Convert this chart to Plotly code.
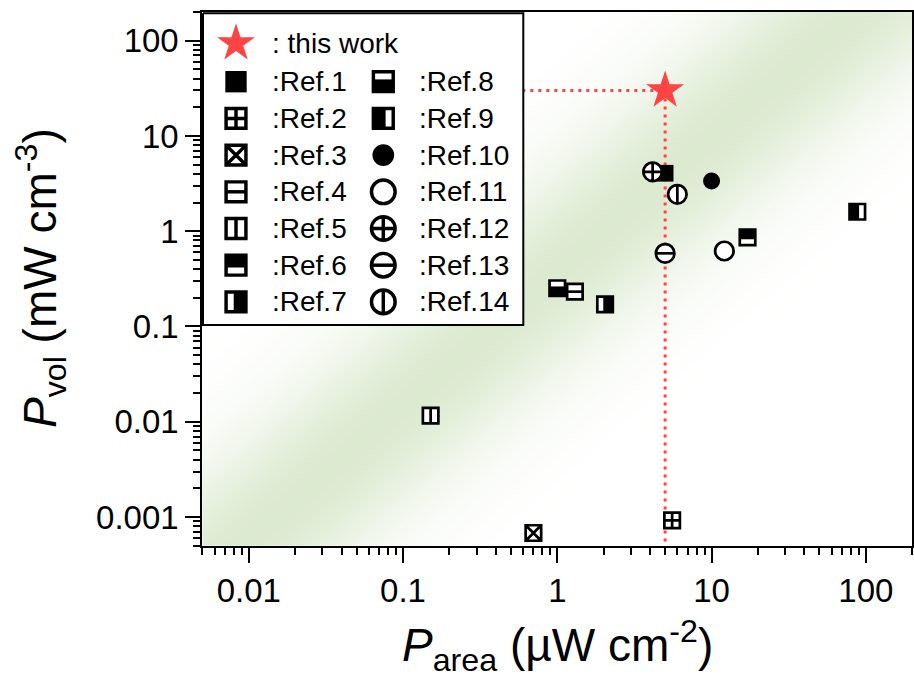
import numpy as np
import plotly.graph_objects as go

# ---------------- data ----------------
ref_names = ["Ref.1", "Ref.2", "Ref.3", "Ref.4", "Ref.5", "Ref.6", "Ref.7",
             "Ref.8", "Ref.9", "Ref.10", "Ref.11", "Ref.12", "Ref.13", "Ref.14"]
p_area = [5.0, 5.55, 0.70, 1.30, 0.151, 17.1, 2.04, 1.00, 88.0, 10.0, 12.1, 4.15, 5.0, 6.0]
p_vol = [4.06, 0.00092, 0.00068, 0.232, 0.0116, 0.86, 0.171, 0.252, 1.60, 3.37, 0.62, 4.2, 0.586, 2.44]

this_work_area = 5.0
this_work_vol = 30.0

x_ticks = [0.01, 0.1, 1, 10, 100]
x_tick_text = ["0.01", "0.1", "1", "10", "100"]
y_ticks = [0.001, 0.01, 0.1, 1, 10, 100]
y_tick_text = ["0.001", "0.01", "0.1", "1", "10", "100"]
x_lim = [0.005, 200]
y_lim = [0.0005, 200]

# ---------------- style ----------------
W, H = 914, 680
PLOT_L, PLOT_R, PLOT_T, PLOT_B = 202.3, 912.3, 12.0, 545.7
RED = "#FF4444"
FONT = "Arial, Liberation Sans, Helvetica, sans-serif"
BAND_GREEN = "rgb(220,234,208)"

# marker recipes: base symbol, fill, inner line, half-fill side
SYMBOLS = {
    "Ref.1": ("square", "black", None, None),
    "Ref.2": ("square-cross", "white", None, None),
    "Ref.3": ("square-x", "white", None, None),
    "Ref.4": ("square", "white", "line-ew", None),
    "Ref.5": ("square", "white", "line-ns", None),
    "Ref.6": ("square", "white", None, "top"),
    "Ref.7": ("square", "white", None, "right"),
    "Ref.8": ("square", "white", None, "bottom"),
    "Ref.9": ("square", "white", None, "left"),
    "Ref.10": ("circle", "black", None, None),
    "Ref.11": ("circle", "white", None, None),
    "Ref.12": ("circle-cross", "white", None, None),
    "Ref.13": ("circle", "white", "line-ew", None),
    "Ref.14": ("circle", "white", "line-ns", None),
}

fig = go.Figure()

# ---------------- green guide band ----------------
lx0, lx1 = np.log10(x_lim)
ly0, ly1 = np.log10(y_lim)
gx = np.linspace(PLOT_L, PLOT_R, 180)
gy = np.linspace(PLOT_B, PLOT_T, 180)
band_x = 10 ** (lx0 + (gx - PLOT_L) / (PLOT_R - PLOT_L) * (lx1 - lx0))
band_y = 10 ** (ly1 - (gy - PLOT_T) / (PLOT_B - PLOT_T) * (ly1 - ly0))
PX, PY = np.meshgrid(gx, gy)
slope = 0.87
nx, ny = slope / np.hypot(slope, 1), 1 / np.hypot(slope, 1)
dist = (PX - 560) * nx + (PY - 268) * ny
band_z = np.exp(-0.5 * (dist / 58.0) ** 2)
fig.add_trace(go.Heatmap(
    x=band_x, y=band_y, z=band_z, zmin=0, zmax=1, zsmooth="best",
    colorscale=[[0, "white"], [1, BAND_GREEN]], showscale=False,
    hoverinfo="skip", xaxis="x", yaxis="y"))

# ---------------- dotted guide lines to "this work" ----------------
dot_line = dict(color=RED, width=3, dash="3px,5px")
fig.add_trace(go.Scatter(x=[x_lim[0], this_work_area], y=[this_work_vol, this_work_vol],
                         mode="lines", line=dot_line, hoverinfo="skip", showlegend=False))
fig.add_trace(go.Scatter(x=[this_work_area, this_work_area], y=[this_work_vol, y_lim[0]],
                         mode="lines", line=dot_line, hoverinfo="skip", showlegend=False))

shapes = []


def add_symbol(name, xs, ys, scale, xa, ya, shape_axes, to_shape):
    base, fill, inner, half = SYMBOLS[name]
    is_circle = base.startswith("circle")
    lw = 2.7 * scale
    if fill == "black":
        size = (17.0 if is_circle else 16.7) * scale
        mline = dict(width=0)
    else:
        size = (18.5 if is_circle else 15.5) * scale
        mline = dict(color="black", width=lw)
    fig.add_trace(go.Scatter(
        x=xs, y=ys, mode="markers", xaxis=xa, yaxis=ya, name=name,
        marker=dict(symbol=base, size=size, color=fill, line=mline),
        hoverinfo="skip", showlegend=False, cliponaxis=False))
    if inner:
        fig.add_trace(go.Scatter(
            x=xs, y=ys, mode="markers", xaxis=xa, yaxis=ya,
            marker=dict(symbol=inner, size=size / 1.4, color="black",
                        line=dict(color="black", width=lw)),
            hoverinfo="skip", showlegend=False, cliponaxis=False))
    if half:
        r = size / 2
        e = 1.8 * scale  # filled part reaches a little past the centre
        box = {"top": (-r, r, -e, r), "bottom": (-r, r, -r, e),
               "left": (-r, e, -r, r), "right": (-e, r, -r, r)}[half]
        for x, y in zip(xs, ys):
            ax_, ay_ = to_shape(x, y)
            shapes.append(dict(
                type="rect", xref=shape_axes[0], yref=shape_axes[1],
                xsizemode="pixel", ysizemode="pixel",
                xanchor=ax_, yanchor=ay_, x0=box[0], x1=box[1], y0=box[2], y1=box[3],
                fillcolor="black", line=dict(width=0), layer="above"))


# ---------------- data markers ----------------
# half-fill patches sit on a linear twin (x3/y3) of the log axes, in decades
for name, xv, yv in zip(ref_names, p_area, p_vol):
    add_symbol(name, [xv], [yv], 1.0, "x", "y", ("x3", "y3"),
               lambda a, b: (float(np.log10(a)), float(np.log10(b))))

fig.add_trace(go.Scatter(
    x=[this_work_area], y=[this_work_vol], mode="markers", name="this work",
    marker=dict(symbol="star", size=28.5, color=RED, line=dict(width=0)),
    hoverinfo="skip", showlegend=False, cliponaxis=False))

# ---------------- legend panel (pixel-space axes) ----------------
LEG_L, LEG_T, LEG_R, LEG_B = 203.0, 13.3, 523.3, 325.0
fig.add_trace(go.Scatter(
    x=[LEG_L, LEG_R, LEG_R, LEG_L, LEG_L], y=[LEG_T, LEG_T, LEG_B, LEG_B, LEG_T],
    mode="lines", fill="toself", fillcolor="white", line=dict(color="black", width=2),
    xaxis="x2", yaxis="y2", hoverinfo="skip", showlegend=False))

annotations = []
leg_font = dict(family=FONT, size=28, color="black")
row0, row_step = 81.7, 36.7
col_mark = [236.0, 383.3]
col_text = [270.0, 417.0]

fig.add_trace(go.Scatter(
    x=[col_mark[0]], y=[43.3], mode="markers", xaxis="x2", yaxis="y2",
    marker=dict(symbol="star", size=28.5, color=RED, line=dict(width=0)),
    hoverinfo="skip", showlegend=False, cliponaxis=False))
annotations.append(dict(x=col_text[0], y=43.3, xref="x2", yref="y2", text=": this work",
                        showarrow=False, xanchor="left", yanchor="middle", font=leg_font))

for i, name in enumerate(ref_names):
    col, row = divmod(i, 7)
    yy = row0 + row * row_step
    add_symbol(name, [col_mark[col]], [yy], 1.28, "x2", "y2", ("x2", "y2"),
               lambda a, b: (a, b))
    annotations.append(dict(x=col_text[col], y=yy, xref="x2", yref="y2", text=":" + name,
                            showarrow=False, xanchor="left", yanchor="middle", font=leg_font))

# ---------------- axis titles ----------------
title_font = dict(family=FONT, size=46, color="black")
annotations.append(dict(
    x=557 / W, y=1 - 645 / H, xref="paper", yref="paper", showarrow=False,
    text="<i>P</i><sub>area</sub> (\u00b5W cm<sup>-2</sup>)", font=title_font,
    xanchor="center", yanchor="middle"))
annotations.append(dict(
    x=40 / W, y=1 - 278 / H, xref="paper", yref="paper", showarrow=False, textangle=-90,
    text="<i>P</i><sub>vol</sub> (mW cm<sup>-3</sup>)", font=title_font,
    xanchor="center", yanchor="middle"))


def minor_ticks(lo, hi):
    vals = []
    for e in range(int(np.floor(np.log10(lo))), int(np.ceil(np.log10(hi))) + 1):
        for k in range(2, 10):
            v = k * 10.0 ** e
            if lo <= v <= hi:
                vals.append(v)
    return vals


tick_font = dict(family=FONT, size=33, color="black")
common_axis = dict(
    type="log", showline=True, linecolor="black", linewidth=2, mirror=True,
    ticks="outside", ticklen=15, tickwidth=2, tickcolor="black",
    showgrid=False, zeroline=False, tickfont=tick_font, tickmode="array")

fig.update_layout(
    width=W, height=H,
    margin=dict(l=0, r=0, t=0, b=0),
    paper_bgcolor="white", plot_bgcolor="rgba(0,0,0,0)",
    showlegend=False,
    xaxis=dict(common_axis, range=list(np.log10(x_lim)), domain=[PLOT_L / W, PLOT_R / W],
               tickvals=x_ticks, ticktext=x_tick_text, anchor="y",
               minor=dict(tickmode="array", tickvals=minor_ticks(*x_lim), ticks="outside",
                          ticklen=7, tickwidth=2, tickcolor="black", showgrid=False)),
    yaxis=dict(common_axis, range=list(np.log10(y_lim)), domain=[1 - PLOT_B / H, 1 - PLOT_T / H],
               tickvals=y_ticks, ticktext=y_tick_text, anchor="x",
               minor=dict(tickmode="array", tickvals=minor_ticks(*y_lim), ticks="outside",
                          ticklen=7, tickwidth=2, tickcolor="black", showgrid=False)),
    xaxis2=dict(domain=[0, 1], range=[0, W], visible=False, anchor="y2", fixedrange=True),
    yaxis2=dict(domain=[0, 1], range=[H, 0], visible=False, anchor="x2", fixedrange=True),
    xaxis3=dict(overlaying="x", range=list(np.log10(x_lim)), visible=False, anchor="y3"),
    yaxis3=dict(overlaying="y", range=list(np.log10(y_lim)), visible=False, anchor="x3"),
    shapes=shapes,
    annotations=annotations,
)

fig.write_html("out.html")
